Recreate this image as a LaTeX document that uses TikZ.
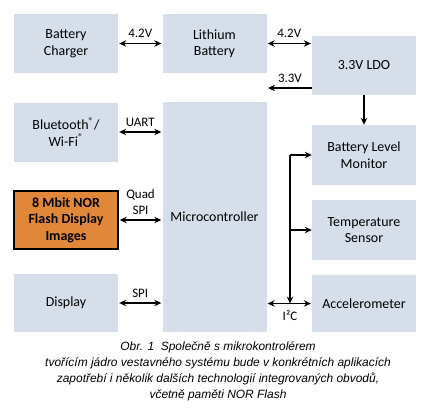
\documentclass[tikz,border=0pt]{standalone}
\usepackage{fontspec}
\setmainfont{Liberation Sans}
\newfontfamily\boxfont{Carlito}
\definecolor{blk_fill}{RGB}{214, 222, 234}
\definecolor{nor_orange}{RGB}{224, 135, 58}
\usetikzlibrary{arrows.meta, positioning}

\begin{document}
\begin{tikzpicture}[x=1bp, y=-1bp,
    blk/.style={fill=blk_fill, minimum width=104bp, minimum height=59bp, inner sep=0pt, align=center, font=\boxfont\fontsize{14}{16.5}\selectfont},
    lbl/.style={font=\boxfont\fontsize{13}{16}\selectfont, inner sep=1pt, align=center},
    link/.style={line width=1.2pt, {Stealth[length=7pt, width=6.5pt]}-{Stealth[length=7pt, width=6.5pt]}, shorten <=1pt, shorten >=1pt},
    feed/.style={line width=1.2pt, -{Stealth[length=7pt, width=6.5pt]}}]
  \useasboundingbox (0,0) rectangle (437,418);

  % left column
  \node[blk] (charger) at (66, 43.5) {Battery\\Charger};
  \node[blk] (wireless) at (66, 132) {Bluetooth\textsuperscript{®}/\\Wi-Fi\textsuperscript{®}};
  \node[blk, fill=nor_orange, draw=black, line width=1.5pt, minimum width=104bp, minimum height=58bp, font=\boxfont\bfseries\fontsize{14}{16.5}\selectfont] (norflash) at (66, 220) {8 Mbit NOR\\Flash Display\\Images};
  \node[blk, minimum height=58bp] (display) at (66, 303) {Display};

  % middle column
  \node[blk] (lithium) at (214.5, 43.5) {Lithium\\Battery};
  \node[blk, minimum height=230bp] (mcu) at (214.5, 217) {Microcontroller};

  % right column
  \node[blk] (ldo) at (364, 65.5) {3.3V LDO};
  \node[blk, minimum height=60bp] (levelmon) at (364, 155) {Battery Level\\Monitor};
  \node[blk, minimum height=60bp] (tempsens) at (364, 230) {Temperature\\Sensor};
  \node[blk, minimum height=57bp] (accel) at (364, 303.5) {Accelerometer};

  % power
  \draw[link] (charger.east) -- node[lbl, above=4pt] {4.2V} (lithium.west);
  \draw[link] (lithium.east) -- node[lbl, above=4pt] {4.2V} (lithium.east -| ldo.west);
  \coordinate (out33) at (268, 88);
  \draw[feed] (ldo.west |- out33) -- node[lbl, above=4pt] {3.3V} (out33);
  \draw[feed] (ldo.south) -- (levelmon.north);

  % interfaces
  \draw[link] (wireless.east) -- node[lbl, above=4pt] {UART} (wireless.east -| mcu.west);
  \draw[link] (norflash.east) -- node[lbl, above=4pt] {Quad\\SPI} (norflash.east -| mcu.west);
  \draw[link] (display.east) -- node[lbl, above=4pt] {SPI} (display.east -| mcu.west);

  % I2C bus
  \coordinate (bus) at (290, 303.5);
  \draw[link] (mcu.east |- accel.west) -- (accel.west);
  \draw[feed] (levelmon.west -| bus) -- (bus);
  \draw[feed] (levelmon.west -| bus) -- (levelmon.west);
  \draw[feed] (tempsens.west -| bus) -- (tempsens.west);
  \node[lbl, below=6pt] (i2c) at (bus) {I²C};

  \node[font=\itshape\fontsize{12}{16}\selectfont, align=center] (caption) at (218, 371) {Obr. 1\ \ Společně s mikrokontrolérem\\tvořícím jádro vestavného systému bude v konkrétních aplikacích\\zapotřebí i několik dalších technologií integrovaných obvodů,\\včetně paměti NOR Flash};
\end{tikzpicture}
\end{document}
